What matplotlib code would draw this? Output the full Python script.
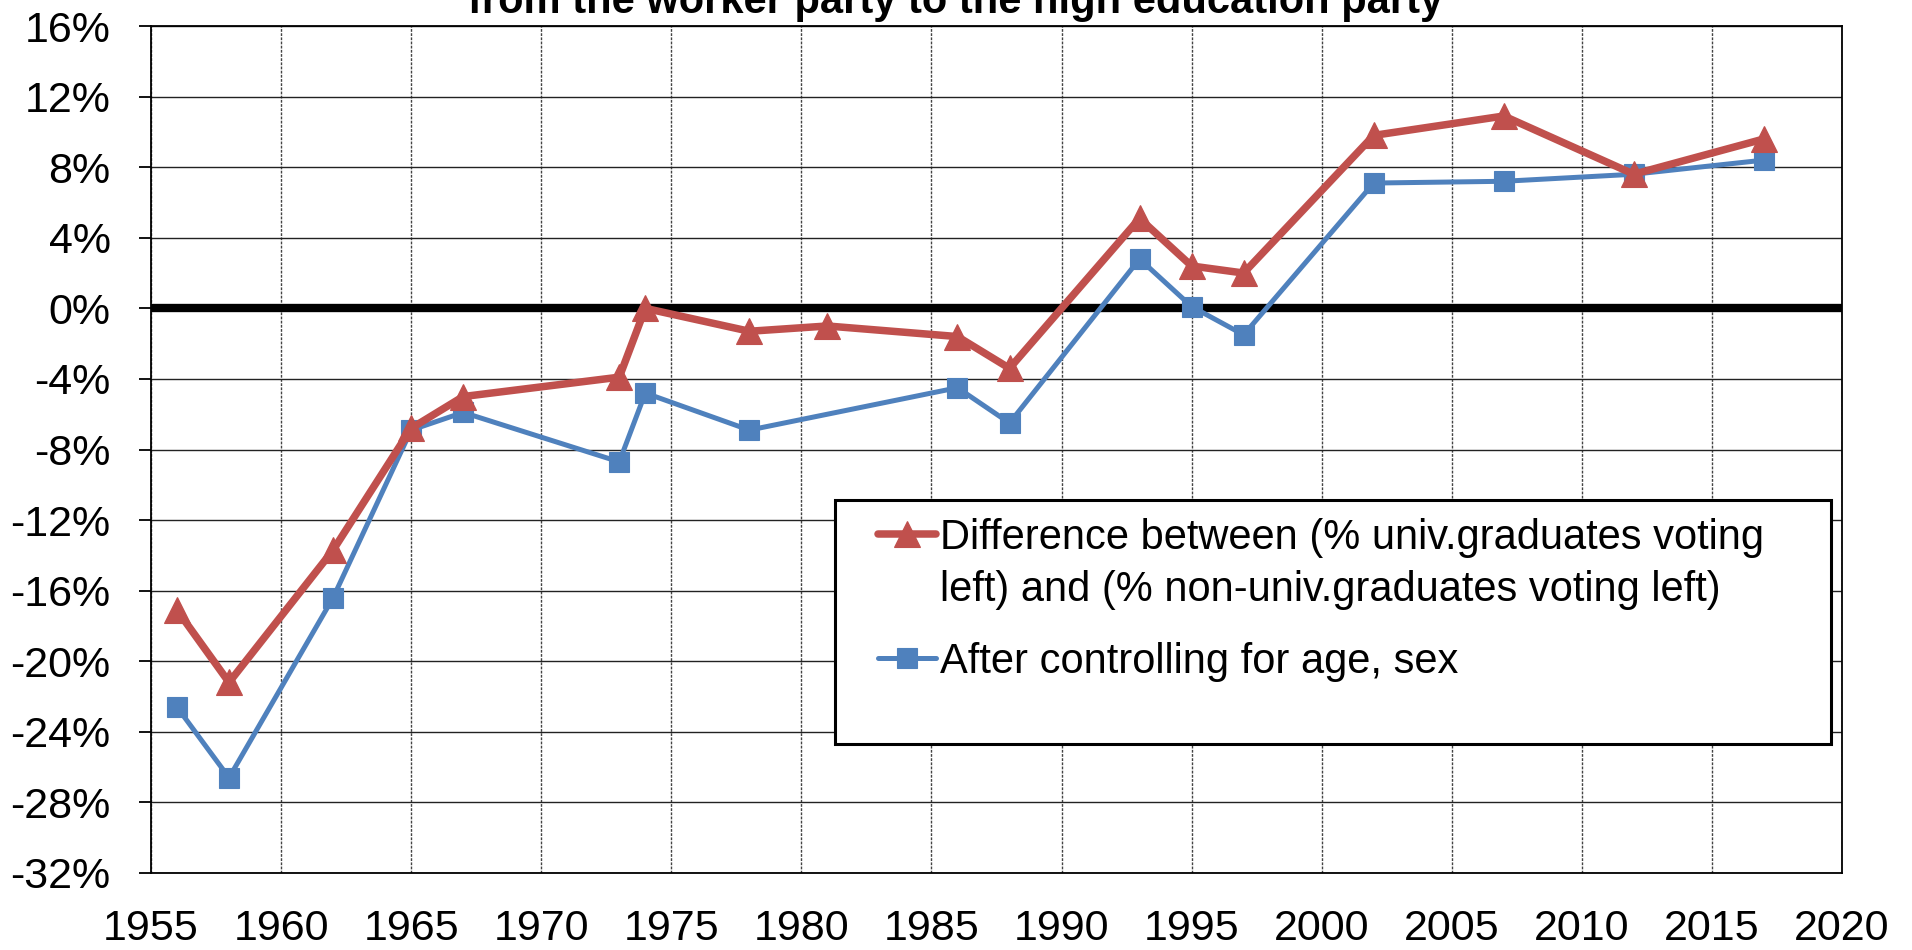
import matplotlib
matplotlib.use("Agg")
import matplotlib.pyplot as plt
from matplotlib.lines import Line2D
from matplotlib.patches import Rectangle
from matplotlib.ticker import FuncFormatter, MultipleLocator

plt.rcParams['font.family'] = ['Liberation Sans', 'DejaVu Sans']

# ---- data ----
years_diff = [1956, 1958, 1962, 1965, 1967, 1973, 1974, 1978, 1981, 1986, 1988,
              1993, 1995, 1997, 2002, 2007, 2012, 2017]
diff_raw = [-17.1, -21.2, -13.7, -6.8, -5.0, -3.9, 0.0, -1.3, -1.0, -1.6, -3.4,
            5.1, 2.4, 2.0, 9.8, 10.9, 7.6, 9.6]

years_ctrl = [1956, 1958, 1962, 1965, 1967, 1973, 1974, 1978, 1986, 1988,
              1993, 1995, 1997, 2002, 2007, 2012, 2017]
diff_ctrl = [-22.6, -26.6, -16.4, -6.9, -5.9, -8.7, -4.8, -6.9, -4.5, -6.5,
             2.8, 0.1, -1.5, 7.1, 7.2, 7.6, 8.4]

label_raw_1 = "Difference between (% univ.graduates voting"
label_raw_2 = "left) and (% non-univ.graduates voting left)"
label_ctrl = "After controlling for age, sex"
title = "from the worker party to the high education party"

RED = "#C0504D"
BLUE = "#4F81BD"

W, H = 1912, 950
fig = plt.figure(figsize=(W / 100, H / 100), dpi=100)
ax = fig.add_axes([151 / W, 1 - 873 / H, (1842 - 151) / W, (873 - 26) / H])

ax.set_xlim(1955, 2020)
ax.set_ylim(-32, 16)
ax.xaxis.set_major_locator(MultipleLocator(5))
ax.yaxis.set_major_locator(MultipleLocator(4))
ax.yaxis.set_major_formatter(FuncFormatter(lambda v, p: f"{v:.0f}%"))
ax.xaxis.set_major_formatter(FuncFormatter(lambda v, p: f"{v:.0f}"))

ax.grid(axis='y', color='#222222', linewidth=1.0, linestyle='-')
ax.grid(axis='x', color='#444444', linewidth=1.0, linestyle=(0, (2, 1)))
ax.set_axisbelow(True)

ax.axhline(0, color='black', linewidth=6.0, zorder=2)

ax.plot(years_ctrl, diff_ctrl, color=BLUE, linewidth=3.6, marker='s',
        markersize=15, markeredgewidth=0.8, markeredgecolor=BLUE, zorder=3,
        solid_joinstyle='round')
ax.plot(years_diff, diff_raw, color=RED, linewidth=5.4, marker='^',
        markersize=19, markeredgewidth=0.8, markeredgecolor=RED, zorder=4,
        solid_joinstyle='round')

for s in ax.spines.values():
    s.set_linewidth(1.3)
    s.set_color('black')

ax.tick_params(axis='y', length=9, width=1.3, direction='out', pad=20,
               labelsize=31)
ax.tick_params(axis='x', length=0, pad=26, labelsize=31)

# title (partly cut off by the top edge, as in the reference)
fig.text(0.5, 1 - 13 / H, title, ha='center', va='baseline',
         fontsize=30, fontweight='bold')

# legend frame
fig.add_artist(Rectangle((835 / W, 1 - 744 / H), (1831 - 835) / W,
                         (744 - 500) / H, transform=fig.transFigure,
                         fill=True, facecolor='white', edgecolor='black',
                         linewidth=2.2, zorder=5))

h_raw = Line2D([], [], color=RED, linewidth=5.4, marker='^', markersize=19,
               markeredgewidth=0.8, solid_capstyle='round')
h_blank = Line2D([], [], color='none')
h_ctrl = Line2D([], [], color=BLUE, linewidth=3.6, marker='s', markersize=15,
                markeredgewidth=0.8, solid_capstyle='round')

FS = 30
leg1 = fig.legend([h_raw, h_blank], [label_raw_1, label_raw_2],
                  loc='upper left', bbox_to_anchor=(878 / W, 1 - 518 / H),
                  bbox_transform=fig.transFigure, frameon=False,
                  fontsize=FS, borderpad=0, borderaxespad=0,
                  handlelength=1.4, handletextpad=0.1, labelspacing=0.29)
leg1.set_zorder(6)
leg2 = fig.legend([h_ctrl], [label_ctrl],
                  loc='upper left', bbox_to_anchor=(878 / W, 1 - 642 / H),
                  bbox_transform=fig.transFigure, frameon=False,
                  fontsize=FS, borderpad=0, borderaxespad=0,
                  handlelength=1.4, handletextpad=0.1)
leg2.set_zorder(6)

fig.savefig("out.png", dpi=100)
